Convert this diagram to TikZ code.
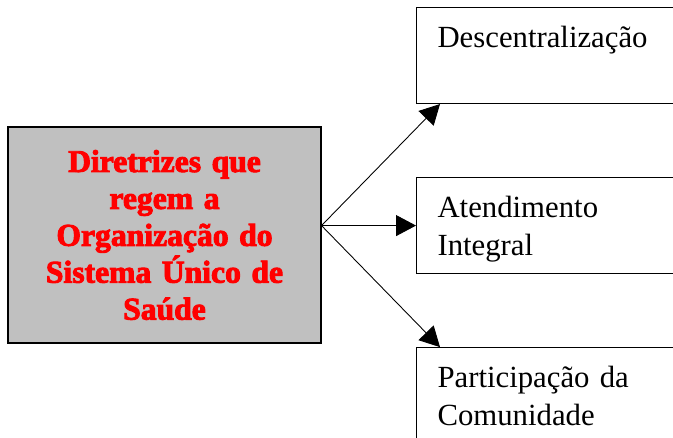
\documentclass[tikz,border=0pt]{standalone}
\usepackage{fontspec}
\setmainfont{Liberation Serif}
\newfontfamily\heavyfont[BoldFeatures={FakeBold=3}]{Liberation Serif}
\usetikzlibrary{arrows.meta,positioning}
\definecolor{boxgray}{RGB}{192,192,192}
\tikzset{%
    >={Triangle[width=4.2mm,length=4mm]},
    base/.style = {
        rectangle, draw=black, line width=0.6pt, inner sep=0pt
    },
    mainbox/.style = {base, fill=boxgray, minimum width=6.26cm,
        minimum height=4.32cm, text width=6cm, align=center,
        text=red, font=\heavyfont\bfseries\fontsize{18}{21}\selectfont},
    topic/.style = {base, fill=white, minimum width=7cm, minimum height=1.92cm,
        text width=6.16cm, inner xsep=0.42cm, align=left,
        text height=0.8cm, text depth=1.12cm,
        font=\fontsize{17.5}{21.6}\selectfont},
}

\begin{document}
\begin{tikzpicture}[line width=0.5pt]
    \useasboundingbox (0,0) rectangle (13.46,8.74);

    % Nodes position
    \node (diretrizes)    [mainbox] at (3.29,4.04)
                            {Diretrizes que\\ regem a\\ Organização do\\ Sistema Único de\\ Saúde};
    \node (descentr)      [topic, anchor=north west] at (8.32,8.60)
                            {Descentralização};
    \node (atendimento)   [topic, below=1.46cm of descentr]
                            {Atendimento\\ Integral};
    \node (participacao)  [topic, below=1.46cm of atendimento]
                            {Participação da\\ Comunidade};

    \coordinate (fork) at (diretrizes.east |- atendimento.west);

    % Arrow specification
    \draw[->] (fork) -- ([xshift=0.48cm]descentr.south west);
    \draw[->] (fork) -- (atendimento.west);
    \draw[->] (fork) -- ([xshift=0.48cm]participacao.north west);
\end{tikzpicture}
\end{document}
